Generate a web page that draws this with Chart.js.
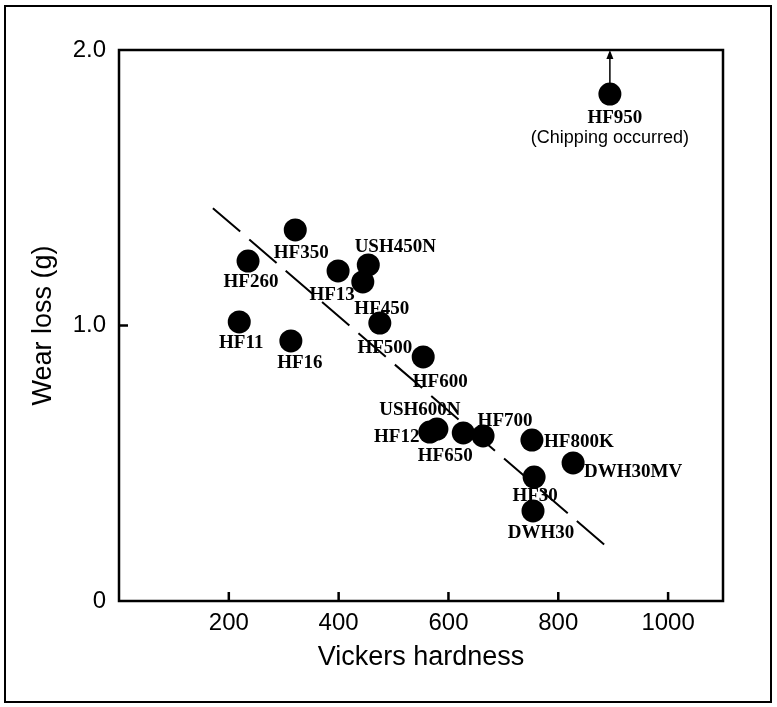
<!DOCTYPE html>
<html lang="en">
<head>
  <meta charset="UTF-8">
  <title>Wear loss vs Vickers hardness</title>
  <style>
* {
  margin: 0;
  padding: 0;
  box-sizing: border-box;
}
body {
  background: #fff;
}
#wrap {
  width: 777px;
  height: 707px;
}
  </style>
</head>
<body>
  <div id="wrap">
    <canvas id="wearChart" width="777" height="707"></canvas>
  </div>
  <script src="https://cdn.jsdelivr.net/npm/chart.js@4.4.0/dist/chart.umd.min.js"></script>
  <script>
    // values
    const grades = ['HF950', 'HF350', 'HF260', 'HF13', 'USH450N', 'HF450', 'HF11', 'HF16', 'HF500',
      'HF600', 'USH600N', 'HF12', 'HF650', 'HF700', 'HF800K', 'DWH30MV', 'HF30', 'DWH30'];
    const hardness = [894, 321, 235, 399, 454, 444, 219, 313, 475,
      554, 579, 566, 627, 663, 752, 827, 756, 754];
    const wearLoss = [1.84, 1.347, 1.234, 1.198, 1.22, 1.158, 1.013, 0.944, 1.009,
      0.886, 0.624, 0.613, 0.61, 0.599, 0.584, 0.501, 0.45, 0.327];
    const trendX = [171, 891];
    const trendY = [1.426, 0.192];
    const xTicks = [200, 400, 600, 800, 1000];
    const yTicks = [0, 1, 2];
    const yTickLabels = ['0', '1.0', '2.0'];
    const chippingNote = '(Chipping occurred)';
    const arrowTop = 2.0;

    // where each grade name sits relative to its dot (px)
    const labelOffsets = [[5, 24], [6, 23], [3, 21], [-6, 24], [27, -18], [19, 27], [2, 21], [9, 22], [5, 25],
      [17, 25], [-17, -19], [-33, 5], [-18, 23], [22, -15], [47, 2], [60, 9], [1, 19], [8, 22]];

    const sans = "'Liberation Sans', Arial, sans-serif";

    const decorations = {
      id: 'decorations',
      afterDatasetsDraw(chart) {
        const ctx = chart.ctx;
        const meta = chart.getDatasetMeta(0);
        ctx.save();
        ctx.fillStyle = '#000';
        ctx.textAlign = 'center';
        ctx.textBaseline = 'middle';
        ctx.font = "bold 19px 'Liberation Serif', 'Times New Roman', serif";
        meta.data.forEach((pt, i) => {
          const off = labelOffsets[i];
          ctx.fillText(grades[i], pt.x + off[0], pt.y + off[1]);
        });
        // note under HF950
        const top = meta.data[0];
        ctx.font = '18px ' + sans;
        ctx.fillText(chippingNote, top.x, top.y + 44);

        // arrow from HF950 up to the top of the plot
        const yEnd = chart.scales.y.getPixelForValue(arrowTop);
        ctx.strokeStyle = '#000';
        ctx.lineWidth = 1.5;
        ctx.beginPath();
        ctx.moveTo(top.x, top.y - 11);
        ctx.lineTo(top.x, yEnd + 6);
        ctx.stroke();
        ctx.beginPath();
        ctx.moveTo(top.x, yEnd);
        ctx.lineTo(top.x - 3.5, yEnd + 9);
        ctx.lineTo(top.x + 3.5, yEnd + 9);
        ctx.closePath();
        ctx.fill();
        ctx.restore();
      },
      afterDraw(chart) {
        const {ctx, chartArea: a, scales: {x, y}} = chart;
        ctx.save();
        ctx.strokeStyle = '#000';
        // outer frame
        ctx.lineWidth = 2;
        ctx.strokeRect(5, 6, 766, 696);
        // plot box
        ctx.lineWidth = 2.5;
        ctx.strokeRect(a.left, a.top, a.right - a.left, a.bottom - a.top);
        // inward tick marks
        ctx.beginPath();
        xTicks.forEach(v => {
          const px = x.getPixelForValue(v);
          ctx.moveTo(px, a.bottom);
          ctx.lineTo(px, a.bottom - 9);
        });
        yTicks.forEach(v => {
          if (v <= y.min || v >= y.max) return;
          const py = y.getPixelForValue(v);
          ctx.moveTo(a.left, py);
          ctx.lineTo(a.left + 9, py);
        });
        ctx.stroke();
        ctx.restore();
      }
    };

    new Chart(document.getElementById('wearChart'), {
      type: 'scatter',
      data: {
        datasets: [
          {
            label: 'Grades',
            data: hardness.map((h, i) => ({x: h, y: wearLoss[i]})),
            backgroundColor: '#000',
            borderWidth: 0,
            pointRadius: 11.5,
            pointHoverRadius: 11.5,
            order: 1
          },
          {
            label: 'Trend',
            data: trendX.map((h, i) => ({x: h, y: trendY[i]})),
            showLine: true,
            borderColor: '#000',
            borderWidth: 2,
            borderDash: [36, 12],
            pointRadius: 0,
            order: 2
          }
        ]
      },
      options: {
        responsive: false,
        animation: false,
        devicePixelRatio: 1,
        layout: {
          padding: {top: 50, right: 54, left: 0, bottom: 0}
        },
        plugins: {
          legend: {display: false},
          tooltip: {enabled: false}
        },
        scales: {
          x: {
            type: 'linear',
            min: 0,
            max: 1100,
            afterBuildTicks: s => { s.ticks = xTicks.map(v => ({value: v})); },
            afterFit: s => { s.height = 106; },
            grid: {display: false},
            border: {display: false},
            ticks: {
              color: '#000',
              autoSkip: false,
              maxRotation: 0,
              padding: 0,
              font: {family: sans, size: 24},
              callback: v => String(v)
            },
            title: {
              display: true,
              text: 'Vickers hardness',
              color: '#000',
              font: {family: sans, size: 27, lineHeight: 1.2},
              padding: {top: 0, bottom: 33}
            }
          },
          y: {
            type: 'linear',
            min: 0,
            max: 2,
            afterBuildTicks: s => { s.ticks = yTicks.map(v => ({value: v})); },
            afterFit: s => { s.width = 119; },
            grid: {display: false},
            border: {display: false},
            ticks: {
              color: '#000',
              padding: 5,
              font: {family: sans, size: 24},
              callback: v => yTickLabels[yTicks.indexOf(v)]
            },
            title: {
              display: true,
              text: 'Wear loss (g)',
              color: '#000',
              font: {family: sans, size: 27, lineHeight: 1.2},
              padding: {top: 27, bottom: 0}
            }
          }
        }
      },
      plugins: [decorations]
    });
  </script>
</body>
</html>
